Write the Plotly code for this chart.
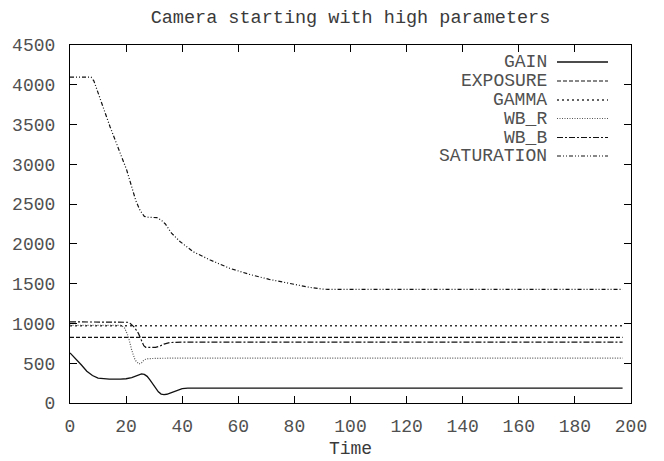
import plotly.graph_objects as go

# ---- data ----
gain_t = [0, 2, 4, 6, 8, 10, 12, 14, 18, 20, 22, 24, 25.5, 26.5, 27.5, 28.5, 29.5, 30.5, 31.5, 32.5, 33.5, 34.5, 36, 38, 40, 42, 197]
gain_v = [630, 560, 480, 400, 345, 312, 302, 300, 300, 305, 320, 348, 365, 360, 335, 290, 240, 185, 140, 112, 105, 110, 130, 160, 182, 188, 188]

exposure_t = [0, 197]
exposure_v = [825, 825]

gamma_t = [0, 197]
gamma_v = [971, 971]

wbr_t = [0, 18.4, 19.5, 20.8, 22, 23.2, 24.6, 25.5, 26.5, 28, 32, 40, 197]
wbr_v = [975, 975, 940, 835, 665, 540, 490, 505, 545, 558, 562, 565, 565]

wbb_t = [0, 19, 20.5, 21.5, 23, 24.4, 25.5, 26.3, 27, 30.5, 32, 33.5, 35.5, 40, 197]
wbb_v = [1020, 1020, 1015, 1000, 950, 875, 780, 720, 700, 700, 715, 740, 760, 765, 765]

sat_t = [0, 7.5, 8.5, 14.3, 20.2, 23.5, 25, 26.5, 28, 31, 32.5, 34, 36.2, 39.2, 44, 50, 57, 64, 71, 78, 85.5, 90, 92, 197]
sat_v = [4095, 4095, 4050, 3470, 2930, 2540, 2420, 2345, 2335, 2330, 2300, 2250, 2135, 2030, 1900, 1797, 1692, 1617, 1554, 1504, 1453, 1432, 1428, 1428]

x_ticks = [0, 20, 40, 60, 80, 100, 120, 140, 160, 180, 200]
y_ticks = [0, 500, 1000, 1500, 2000, 2500, 3000, 3500, 4000, 4500]

series = [
    ("GAIN", gain_t, gain_v, "solid", "#111111", 1.3),
    ("EXPOSURE", exposure_t, exposure_v, "4px,2px", "#111111", 1.2),
    ("GAMMA", gamma_t, gamma_v, "2px,3px", "#333333", 1.3),
    ("WB_R", wbr_t, wbr_v, "1px,1.5px", "#555555", 1.2),
    ("WB_B", wbb_t, wbb_v, "6px,2px,2px,2px", "#111111", 1.2),
    ("SATURATION", sat_t, sat_v, "4px,2px,1px,2px,1px,2px", "#111111", 1.2),
]

FONT = "Liberation Mono, Courier New, monospace"
FS = 18
TXT = "#505050"
W, H = 664, 461
L, R, T, B = 70, 33, 45, 58
pw, ph = W - L - R, H - T - B

fig = go.Figure()
for name, t, v, dash, col, lw in series:
    fig.add_trace(go.Scatter(x=t, y=v, mode="lines", name=name, showlegend=False,
                             line=dict(color=col, width=lw, dash=dash)))

# legend built as text + line samples (text left of sample, right aligned)
rows_px = [62, 81, 100, 118.5, 137.5, 156]
for (name, t, v, dash, col, lw), ypx in zip(series, rows_px):
    yp = (H - B - ypx) / ph
    fig.add_annotation(text=name, xref="paper", yref="paper", x=(548 - L) / pw, y=yp,
                       xanchor="right", yanchor="middle", showarrow=False, borderpad=0,
                       font=dict(family=FONT, size=FS, color=TXT))
    fig.add_shape(type="line", xref="paper", yref="paper",
                  x0=(557 - L) / pw, x1=(608 - L) / pw, y0=yp, y1=yp,
                  line=dict(color=col, width=lw, dash=dash))

axis_common = dict(showgrid=False, zeroline=False, showline=True, linecolor="#000000",
                   linewidth=1.2, mirror="ticks", ticks="inside", ticklen=7,
                   tickcolor="#000000", tickwidth=1, automargin=False,
                   tickfont=dict(family=FONT, size=FS, color=TXT))

fig.update_layout(
    width=W, height=H, autosize=False,
    margin=dict(l=L, r=R, t=T, b=B, pad=0, autoexpand=False),
    paper_bgcolor="white", plot_bgcolor="white",
    title=dict(text="Camera starting with high parameters", x=(L + pw / 2) / W, xanchor="center",
               y=1 - 17 / H, yanchor="middle", yref="container",
               font=dict(family=FONT, size=18.5, color="#3a3a3a")),
    xaxis=dict(range=[0, 200], tickvals=x_ticks, ticktext=[str(x) for x in x_ticks],
               title=dict(text="Time", font=dict(family=FONT, size=FS, color="#3a3a3a"), standoff=5),
               ticklabelstandoff=6, **axis_common),
    yaxis=dict(range=[0, 4500], tickvals=y_ticks, ticktext=[str(y) for y in y_ticks],
               ticklabelstandoff=10, **axis_common),
)

fig.write_html("out.html",
               config={"responsive": False, "displayModeBar": False},
               post_script="document.body.style.margin='0';document.body.style.overflow='hidden';")
